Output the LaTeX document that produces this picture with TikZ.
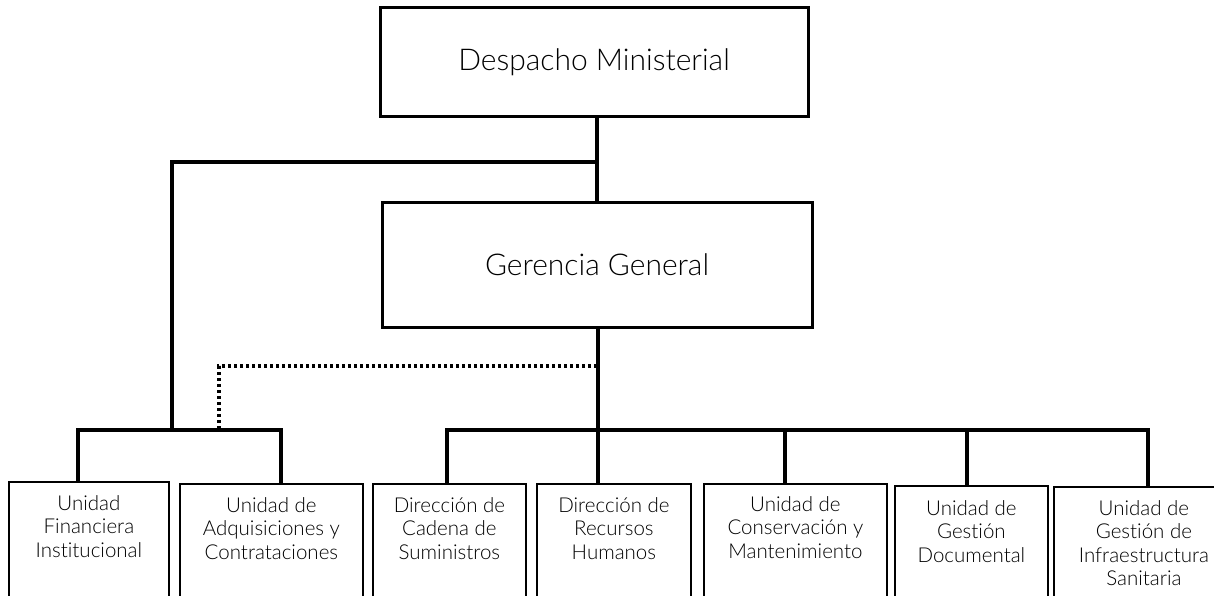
\documentclass[tikz,border=0pt]{standalone}
\usepackage{fontspec}
\setmainfont{Lato Light}[Ligatures={NoCommon}]
\begin{document}
\begin{tikzpicture}[x=1pt,y=-1pt,
  topbox/.style={draw, line width=3pt, inner sep=0pt, font=\fontsize{30}{34}\selectfont},
  unitbox/.style={draw, line width=1.8pt, anchor=north west, inner sep=0pt, minimum height=150pt},
  unittext/.style={anchor=north, align=center, inner sep=0pt, font=\fontsize{20.5}{23.5}\selectfont},
  link/.style={line width=3.5pt},
  dotlink/.style={line width=3.2pt, dash pattern=on 3pt off 3pt}]
\useasboundingbox (0,0) rectangle (1214,596);
\clip (0,0) rectangle (1214,596);
% top boxes
\node[topbox, minimum width=428pt, minimum height=109pt] (dm) at (594,62.5) {\raisebox{-4pt}{Despacho Ministerial}};
\node[topbox, minimum width=430pt, minimum height=125pt] (gg) at (597,264.5) {\raisebox{-3pt}{Gerencia General}};
% unit boxes
\node[unitbox, minimum width=160pt] (u1) at (8,481) {};
\node[unitbox, minimum width=183pt] (u2) at (179,483) {};
\node[unitbox, minimum width=153pt] (u3) at (372,483) {};
\node[unitbox, minimum width=154pt] (u4) at (536,483) {};
\node[unitbox, minimum width=183pt] (u5) at (703,483) {};
\node[unitbox, minimum width=153pt] (u6) at (894,485) {};
\node[unitbox, minimum width=180pt] (u7) at (1053,486) {};
% unit texts
\node[unittext] (t1) at ([yshift=-14pt]u1.north) {Unidad\\Financiera\\Institucional};
\node[unittext] (t2) at ([yshift=-14pt]u2.north) {Unidad de\\Adquisiciones y\\Contrataciones};
\node[unittext] (t3) at ([yshift=-14pt]u3.north) {Dirección de\\Cadena de\\Suministros};
\node[unittext] (t4) at ([yshift=-14pt]u4.north) {Dirección de\\Recursos\\Humanos};
\node[unittext] (t5) at ([yshift=-13pt]u5.north) {Unidad de\\Conservación y\\Mantenimiento};
\node[unittext] (t6) at ([yshift=-15pt]u6.north) {Unidad de\\Gestión\\Documental};
\node[unittext] (t7) at ([yshift=-14pt]u7.north) {Unidad de\\Gestión de\\Infraestructura\\Sanitaria};
% coordinates
\coordinate (j1) at (597,162);
\coordinate (lb) at (172,430);
\coordinate (lbl) at (78,430);
\coordinate (lbr) at (281,430);
\coordinate (d1) at (597,366);
\coordinate (d2) at (219,430);
\coordinate (rb) at (598,430);
\coordinate (rbl) at (447,430);
\coordinate (rbr) at (1148,430);
\coordinate (r5) at (785,430);
\coordinate (r6) at (967,430);
% connectors
\draw[link] (j1 |- dm.south) -- (j1 |- gg.north);
\draw[link] (j1) -| (lb);
\draw[link] (lbl |- u1.north) -- (lbl) -- (lbr) -- (lbr |- u2.north);
\draw[dotlink] (d1) -| (d2);
\draw[link] (rb |- gg.south) -- (rb |- u4.north);
\draw[link] (rbl |- u3.north) -- (rbl) -- (rbr) -- (rbr |- u7.north);
\draw[link] (r5) -- (r5 |- u5.north);
\draw[link] (r6) -- (r6 |- u6.north);
\end{tikzpicture}
\end{document}
